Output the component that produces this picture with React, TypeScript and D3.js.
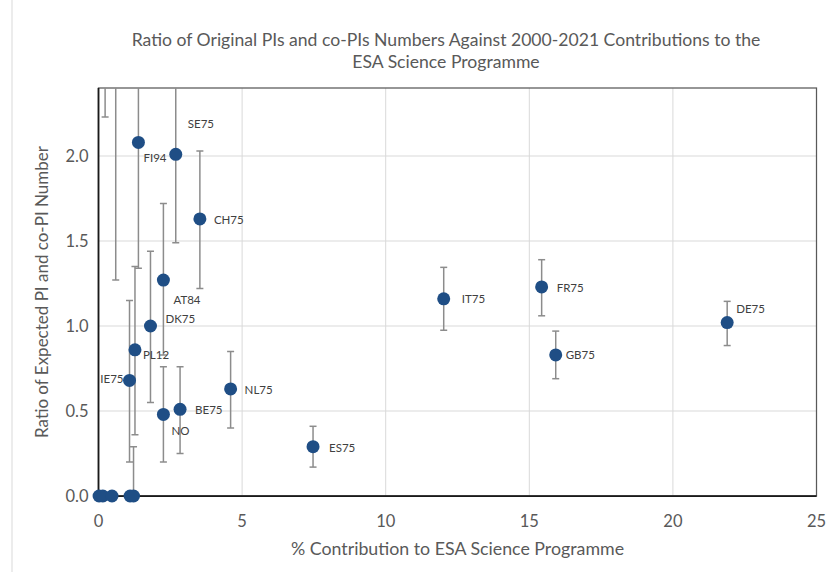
import React from "react";
import * as d3 from "d3";

// ---- Data ----
const labels = ["FI94", "SE75", "CH75", "AT84", "DK75", "PL12", "IE75", "NO", "BE75", "NL75", "ES75", "IT75", "FR75", "GB75", "DE75", "", "", "", "", "", "", ""];
const contribution = [1.39, 2.69, 3.53, 2.26, 1.81, 1.27, 1.08, 2.26, 2.84, 4.6, 7.47, 12.02, 15.43, 15.92, 21.89, 0.23, 0.6, 0.02, 0.15, 0.47, 1.1, 1.22];
const ratio = [2.08, 2.01, 1.63, 1.27, 1.0, 0.86, 0.68, 0.48, 0.51, 0.63, 0.29, 1.16, 1.23, 0.83, 1.02, 3.2, 2.9, 0, 0, 0, 0, 0];
const upper = [2.9, 2.7, 2.03, 1.72, 1.44, 1.35, 1.15, 0.76, 0.76, 0.85, 0.41, 1.345, 1.39, 0.97, 1.145, 4.5, 4.0, 0, 0, 0, 0, 0.29];
const lower = [1.34, 1.49, 1.22, 0.83, 0.55, 0.36, 0.2, 0.2, 0.25, 0.4, 0.17, 0.975, 1.06, 0.69, 0.885, 2.23, 1.27, 0, 0, 0, 0, 0];

const xTicks = [0, 5, 10, 15, 20, 25];
const yTicks = [0, 0.5, 1.0, 1.5, 2.0];

const titleLines = ["Ratio of Original PIs and co-PIs Numbers Against 2000-2021 Contributions to the", "ESA Science Programme"];
const xTitle = "% Contribution to ESA Science Programme";
const yTitle = "Ratio of Expected PI and co-PI Number";

// label placement (pixel offsets from the marker)
const labelOffsets: Record<string, { dx: number; dy: number; anchor?: string }> = {
  SE75: { dx: 12, dy: -30 },
  FI94: { dx: 5, dy: 16 },
  CH75: { dx: 14, dy: 1 },
  AT84: { dx: 10, dy: 20 },
  DK75: { dx: 15, dy: -7 },
  PL12: { dx: 8, dy: 5 },
  IE75: { dx: -6, dy: -1, anchor: "end" },
  NO: { dx: 8, dy: 17 },
  BE75: { dx: 15, dy: 1 },
  NL75: { dx: 14, dy: 1 },
  ES75: { dx: 16, dy: 1 },
  IT75: { dx: 18, dy: 0 },
  FR75: { dx: 15, dy: 1 },
  GB75: { dx: 10, dy: 0 },
  DE75: { dx: 9, dy: -14 },
};

const W = 827;
const H = 572;
const plot = { left: 98.5, right: 816.5, top: 88, bottom: 496 };
const FONT = "Lato, 'Open Sans', sans-serif";
const TXT = "#595959";
const MARK = "#1f4e85";
const ERR = "#8c8c8c";

export default function App() {
  const x = d3.scaleLinear().domain([0, 25]).range([plot.left, plot.right]);
  const y = d3.scaleLinear().domain([0, 2.4]).range([plot.bottom, plot.top]);
  const idx = d3.range(contribution.length);
  const cap = 3.5;

  return (
    <svg width={W} height={H} style={{ position: "absolute", left: 0, top: 0, background: "#fff" }} fontFamily={FONT}>
      <defs>
        <clipPath id="plotclip">
          <rect x={plot.left} y={plot.top} width={plot.right - plot.left} height={plot.bottom - plot.top} />
        </clipPath>
      </defs>
      <rect x={0} y={0} width={W} height={H} fill="#fff" />
      <line x1={12} x2={12} y1={0} y2={H} stroke="#d9d9d9" strokeWidth={1} />

      {/* title */}
      {titleLines.map((t, i) => (
        <text key={i} x={446} y={40 + i * 22} dy="0.35em" textAnchor="middle" fontSize={17.6} fill={TXT}>
          {t}
        </text>
      ))}

      {/* gridlines */}
      {yTicks.map((t) => (
        <line key={"gy" + t} x1={plot.left} x2={plot.right} y1={y(t)} y2={y(t)} stroke="#d9d9d9" strokeWidth={1} />
      ))}
      {xTicks.map((t) => (
        <line key={"gx" + t} x1={x(t)} x2={x(t)} y1={plot.top} y2={plot.bottom} stroke="#d9d9d9" strokeWidth={1} />
      ))}

      {/* plot border */}
      <rect x={plot.left} y={plot.top} width={plot.right - plot.left} height={plot.bottom - plot.top} fill="none" stroke="#595959" strokeWidth={1.25} />
      <line x1={plot.left} x2={plot.left} y1={plot.top} y2={plot.bottom} stroke="#1a1a1a" strokeWidth={1.75} />
      <line x1={plot.left} x2={plot.right} y1={plot.bottom} y2={plot.bottom} stroke="#1a1a1a" strokeWidth={1.75} />

      {/* tick labels */}
      {yTicks.map((t) => (
        <text key={"ty" + t} x={plot.left - 10} y={y(t)} dy="0.35em" textAnchor="end" fontSize={16.5} fill={TXT}>
          {d3.format(".1f")(t)}
        </text>
      ))}
      {xTicks.map((t) => (
        <text key={"tx" + t} x={x(t)} y={plot.bottom + 25} dy="0.35em" textAnchor="middle" fontSize={16.5} fill={TXT}>
          {t}
        </text>
      ))}

      {/* axis titles */}
      <text x={(plot.left + plot.right) / 2} y={549} dy="0.35em" textAnchor="middle" fontSize={17.8} fill={TXT}>
        {xTitle}
      </text>
      <text transform={`translate(42,${(plot.top + plot.bottom) / 2}) rotate(-90)`} dy="0.35em" textAnchor="middle" fontSize={17} fill={TXT}>
        {yTitle}
      </text>

      {/* error bars */}
      <g clipPath="url(#plotclip)">
        {idx.map((i) =>
          upper[i] > lower[i] ? (
            <g key={"e" + i} stroke={ERR} strokeWidth={1.5}>
              <line x1={x(contribution[i])} x2={x(contribution[i])} y1={y(upper[i])} y2={y(lower[i])} />
              <line x1={x(contribution[i]) - cap} x2={x(contribution[i]) + cap} y1={y(upper[i])} y2={y(upper[i])} />
              {lower[i] > 0 && <line x1={x(contribution[i]) - cap} x2={x(contribution[i]) + cap} y1={y(lower[i])} y2={y(lower[i])} />}
            </g>
          ) : null
        )}
      </g>

      {/* markers */}
      <g>
        {idx
          .filter((i) => ratio[i] <= 2.4)
          .map((i) => (
            <circle key={"m" + i} cx={x(contribution[i])} cy={y(ratio[i])} r={6.5} fill={MARK} />
          ))}
      </g>

      {/* data labels */}
      {idx
        .filter((i) => labels[i] && ratio[i] <= 2.4)
        .map((i) => {
          const o = labelOffsets[labels[i]] || { dx: 10, dy: 0 };
          return (
            <text
              key={"l" + i}
              x={x(contribution[i]) + o.dx}
              y={y(ratio[i]) + o.dy}
              dy="0.35em"
              textAnchor={o.anchor || "start"}
              fontSize={11.5}
              fill="#404040"
            >
              {labels[i]}
            </text>
          );
        })}
    </svg>
  );
}
